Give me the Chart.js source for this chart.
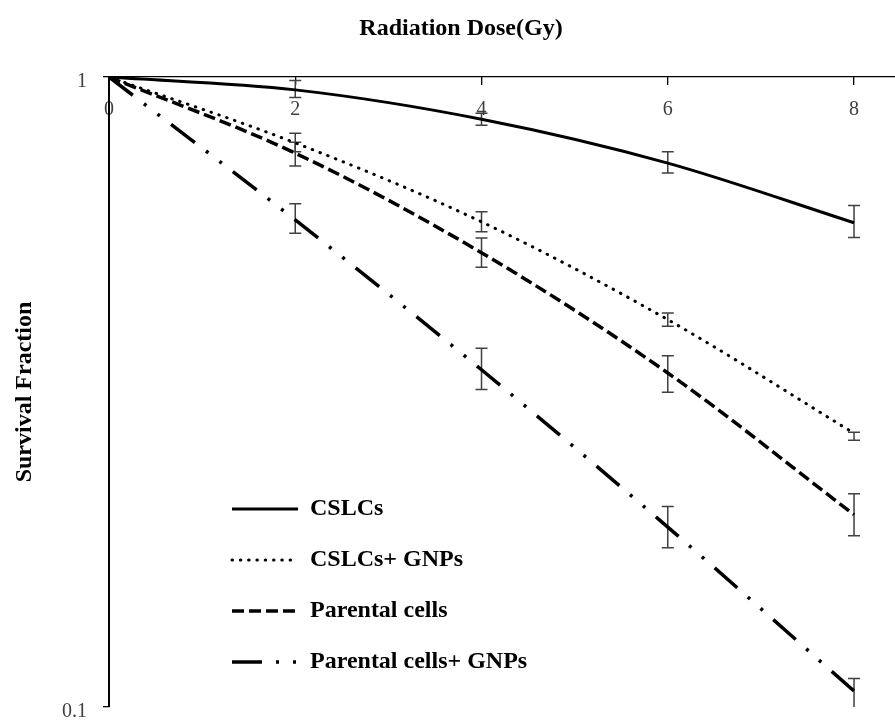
<!DOCTYPE html>
<html>
<head>
<meta charset="utf-8">
<script src="https://cdn.jsdelivr.net/npm/chart.js@4.4.1/dist/chart.umd.min.js"></script>
<style>
  html, body { margin: 0; padding: 0; background: #ffffff; }
  #wrap { width: 895px; height: 726px; }
</style>
</head>
<body>
<div id="wrap"><canvas id="c" width="895" height="726"></canvas></div>
<script>
// ---- data ----
const doses = [0, 2, 4, 6, 8];
const xTicks = [0, 2, 4, 6, 8];
const yTicks = [0.1, 1];
const yTickLabels = ['0.1', '1'];

const seriesNames = ['CSLCs', 'CSLCs+ GNPs', 'Parental cells', 'Parental cells+ GNPs'];

const cslcs        = [1, 0.954, 0.857, 0.730, 0.587];
const cslcsGnps    = [1, 0.786, 0.589, 0.412, 0.272];
const parental     = [1, 0.757, 0.526, 0.339, 0.202];
const parentalGnps = [1, 0.593, 0.343, 0.193, 0.106];

const cslcsHigh        = [null, 0.987, 0.876, 0.761, 0.625];
const cslcsLow         = [null, 0.928, 0.838, 0.704, 0.556];
const cslcsGnpsHigh    = [null, 0.814, 0.611, 0.422, 0.273];
const cslcsGnpsLow     = [null, 0.761, 0.568, 0.402, 0.265];
const parentalHigh     = [null, 0.788, 0.555, 0.361, 0.218];
const parentalLow      = [null, 0.722, 0.499, 0.316, 0.187];
const parentalGnpsHigh = [null, 0.629, 0.371, 0.208, 0.111];
const parentalGnpsLow  = [null, 0.565, 0.319, 0.179, 0.099];

// ---- styling ----
const FONT = "'Liberation Serif', 'Times New Roman', serif";
const styles = [
  { width: 3,   dash: [],                         cap: 'butt'  },
  { width: 3,   dash: [0.5, 7.8],                 cap: 'round' },
  { width: 3.5, dash: [12, 5],                    cap: 'butt'  },
  { width: 3.5, dash: [30, 14, 3, 14, 3, 14],     cap: 'butt'  }
];
const values = [cslcs, cslcsGnps, parental, parentalGnps];
const highs = [cslcsHigh, cslcsGnpsHigh, parentalHigh, parentalGnpsHigh];
const lows  = [cslcsLow, cslcsGnpsLow, parentalLow, parentalGnpsLow];

const datasets = values.map((vals, k) => ({
  label: seriesNames[k],
  data: doses.map((d, i) => ({ x: d, y: vals[i] })),
  borderColor: '#000000',
  backgroundColor: '#000000',
  borderWidth: styles[k].width,
  borderDash: styles[k].dash,
  borderCapStyle: styles[k].cap,
  cubicInterpolationMode: 'monotone',
  pointRadius: 0,
  pointHoverRadius: 0,
  fill: false
}));

const errorBarPlugin = {
  id: 'errorBars',
  beforeDatasetsDraw(chart) {
    const { ctx, chartArea, scales } = chart;
    const xs = scales.x, ys = scales.y;
    ctx.save();
    ctx.beginPath();
    ctx.rect(chartArea.left, chartArea.top, chartArea.right - chartArea.left, chartArea.bottom - chartArea.top);
    ctx.clip();
    ctx.strokeStyle = '#404040';
    ctx.lineWidth = 1.5;
    ctx.setLineDash([]);
    const half = 6;
    highs.forEach((hi, k) => {
      const lo = lows[k];
      doses.forEach((d, i) => {
        if (hi[i] == null || lo[i] == null) return;
        const px = xs.getPixelForValue(d);
        const pHi = ys.getPixelForValue(hi[i]);
        const pLo = ys.getPixelForValue(lo[i]);
        ctx.beginPath();
        ctx.moveTo(px, pHi); ctx.lineTo(px, pLo);
        ctx.moveTo(px - half, pHi); ctx.lineTo(px + half, pHi);
        ctx.moveTo(px - half, pLo); ctx.lineTo(px + half, pLo);
        ctx.stroke();
      });
    });
    ctx.restore();
  }
};

const legendPlacePlugin = {
  id: 'legendPlace',
  afterLayout(chart) {
    const lg = chart.legend;
    if (!lg) return;
    const pad = lg.options.labels.padding;
    const w = lg.right - lg.left, h = lg.bottom - lg.top;
    lg.left = chart.chartArea.left + 123 - pad;
    lg.top = chart.chartArea.top + 420 - pad;
    lg.right = lg.left + w;
    lg.bottom = lg.top + h;
  }
};

new Chart(document.getElementById('c'), {
  type: 'line',
  data: { datasets },
  plugins: [errorBarPlugin, legendPlacePlugin],
  options: {
    responsive: false,
    animation: false,
    devicePixelRatio: 1,
    layout: { padding: { left: 0, right: -27, top: 0, bottom: 19 } },
    plugins: {
      tooltip: { enabled: false },
      title: {
        display: true,
        text: 'Radiation Dose(Gy)',
        color: '#000000',
        font: { family: FONT, size: 24, weight: 'bold' },
        padding: { top: 14, bottom: 0 }
      },
      legend: {
        display: true,
        position: 'chartArea',
        align: 'start',
        labels: {
          usePointStyle: true,
          pointStyle: 'line',
          pointStyleWidth: 66,
          color: '#000000',
          font: { family: FONT, size: 24, weight: 'bold' },
          padding: 27,
          generateLabels: (chart) => chart.data.datasets.map((ds, i) => ({
            text: ds.label,
            fillStyle: '#000000',
            strokeStyle: '#000000',
            fontColor: '#000000',
            lineWidth: ds.borderWidth,
            lineDash: ds.borderDash,
            lineCap: ds.borderCapStyle,
            pointStyle: 'line',
            hidden: false,
            datasetIndex: i
          }))
        }
      }
    },
    scales: {
      x: {
        type: 'linear',
        position: 'top',
        min: 0,
        max: 8.44,
        afterBuildTicks: (s) => { s.ticks = xTicks.map(v => ({ value: v })); },
        afterFit: (s) => { s.height = 34.2; },
        ticks: {
          color: '#404040',
          font: { family: FONT, size: 20 },
          padding: 21,
          mirror: true,
          maxRotation: 0,
          minRotation: 0,
          autoSkip: false,
          callback: (v) => String(v)
        },
        grid: { drawOnChartArea: false, drawTicks: true, tickLength: -8, color: '#000000', lineWidth: 1.3 },
        border: { display: true, color: '#000000', width: 1.3 }
      },
      y: {
        type: 'logarithmic',
        position: 'left',
        min: 0.1,
        max: 1,
        afterBuildTicks: (s) => { s.ticks = yTicks.map(v => ({ value: v })); },
        afterFit: (s) => { s.width = 109; s.paddingTop = 0; s.paddingBottom = 0; },
        ticks: {
          color: '#404040',
          font: { family: FONT, size: 20 },
          padding: 16,
          labelOffset: 5,
          callback: (v) => { const i = yTicks.indexOf(v); return i >= 0 ? yTickLabels[i] : ''; }
        },
        grid: { drawOnChartArea: false, drawTicks: true, tickLength: 6, color: '#000000', lineWidth: 1.3 },
        border: { display: true, color: '#000000', width: 2 },
        title: {
          display: true,
          text: 'Survival Fraction',
          color: '#000000',
          font: { family: FONT, size: 24, weight: 'bold' },
          padding: { top: 10, bottom: 0 }
        }
      }
    }
  }
});
</script>
</body>
</html>
